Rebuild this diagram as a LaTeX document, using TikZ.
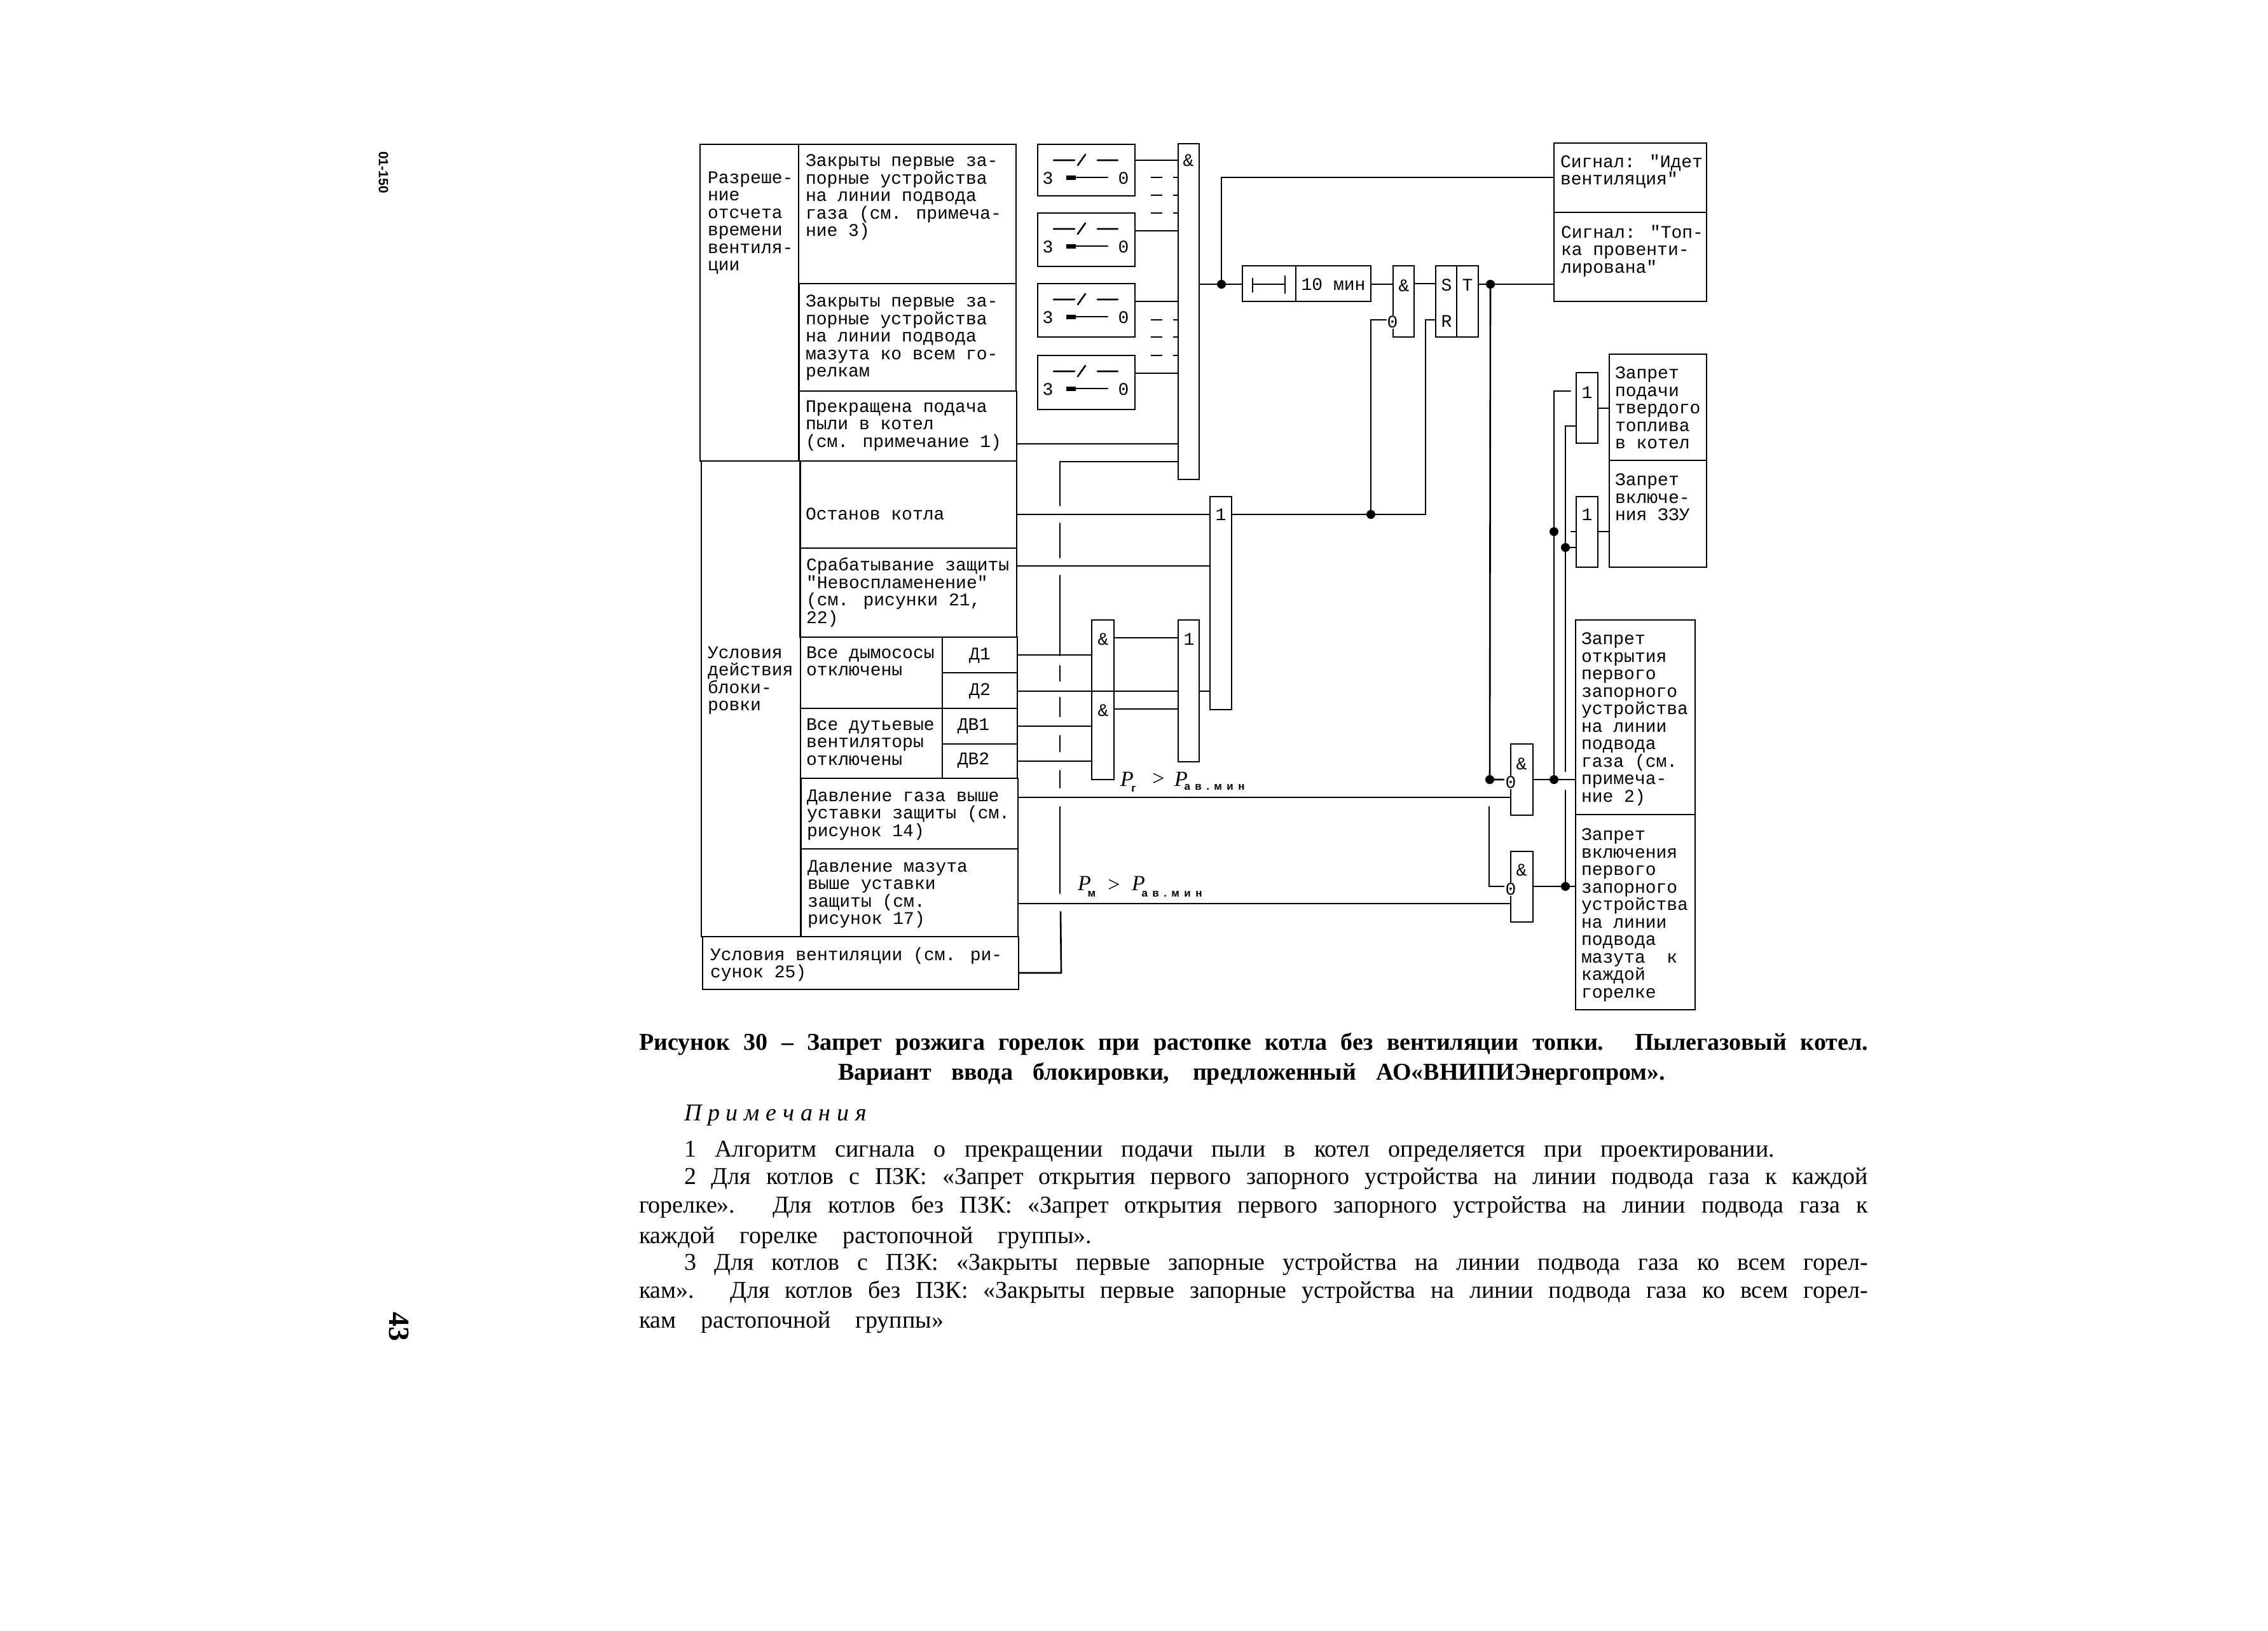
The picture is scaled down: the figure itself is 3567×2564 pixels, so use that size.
\documentclass[tikz,border=0pt]{standalone}
\usepackage{fontspec}
\setmainfont{Liberation Serif}
\newfontfamily\monof{Liberation Mono}
\newfontfamily\sansf{Liberation Sans}
\newcommand\gbox[5]{\pgfmathsetmacro\bw{#4-#2}\pgfmathsetmacro\bh{#5-#3}\node[boxn,minimum width=\bw pt,minimum height=\bh pt,anchor=north west] (#1) at (#2,#3) {};}
\newcommand\swbox[3]{\gbox{#1}{1632}{#2}{1785}{#3}
 \begin{scope}[shift={(0,#2)}]
 \draw[wire] (1657,25)--(1690,25) (1695,33)--(1707,16) (1726,25)--(1758,25);
 \draw[wire] (1692,52)--(1742,52);
 \draw[line width=7pt] (1677,52)--(1692,52);
 \node[lab] (#1-a) at (1648,53) {3};
 \node[lab] (#1-b) at (1767,53) {0};
 \end{scope}}
\newcommand\txt[4]{\node[txtn] (#1) at (#2,#3) {#4};}
\newcommand\jline[4]{\node[anchor=base west,inner sep=0pt,outer sep=0pt] (#1) at (#2,#3) {\makebox[#4pt][s]{\bodyf\strut\ignorespaces};};}
\tikzset{
 boxn/.style={draw=black,line width=2.6pt,inner sep=0pt,outer sep=0pt,rectangle},
 wire/.style={draw=black,line width=2.6pt,line cap=round},
 lab/.style={font=\monof\fontsize{28}{28}\selectfont,inner sep=0pt,outer sep=0pt,text=black},
 labz/.style={font=\monof\fontsize{28}{28}\selectfont,inner sep=1pt,outer sep=0pt,fill=white,text=black},
 txtn/.style={font=\monof\fontsize{28}{27.5}\selectfont,inner sep=0pt,outer sep=0pt,anchor=north west,align=left,text=black},
 dotn/.style={circle,fill=black,inner sep=0pt,minimum size=14pt},
 bodyl/.style={anchor=base west,inner sep=0pt,outer sep=0pt,font=\fontsize{38}{38}\selectfont},
 capl/.style={anchor=base west,inner sep=0pt,outer sep=0pt,font=\bfseries\fontsize{38}{38}\selectfont},
}
\begin{document}
\begin{tikzpicture}[x=1pt,y=-1pt]
\fill[white] (0,0) rectangle (3567,2564);
\useasboundingbox (0,0) rectangle (3567,2564);
% table
\gbox{left1}{1101}{227}{1256}{725}
\gbox{left2}{1103}{725}{1259}{1473}
\gbox{c1}{1256}{227}{1598}{446}
\gbox{c2}{1257}{446}{1598}{615}
\gbox{c3}{1257}{615}{1599}{725}
\gbox{c4}{1258}{725}{1599}{862}
\gbox{c5}{1258}{862}{1599}{1002}
\gbox{c6}{1259}{1002}{1482}{1114}
\gbox{d1}{1482}{1002}{1600}{1058}
\gbox{d2}{1482}{1058}{1600}{1114}
\gbox{c7}{1259}{1114}{1482}{1224}
\gbox{dv1}{1482}{1114}{1600}{1170}
\gbox{dv2}{1482}{1170}{1600}{1224}
\gbox{c8}{1260}{1224}{1601}{1335}
\gbox{c9}{1260}{1335}{1601}{1473}
\gbox{c10}{1105}{1473}{1602}{1556}
% table text
\txt{tl1}{1113}{270}{Разреше-\\ние\\отсчета\\времени\\вентиля-\\ции}
\txt{tl2}{1113}{1017}{Условия\\действия\\блоки-\\ровки}
\txt{t1}{1267}{243}{Закрыты первые за-\\порные устройства\\на линии подвода\\газа (см. примеча-\\ние 3)}
\txt{t2}{1267}{464}{Закрыты первые за-\\порные устройства\\на линии подвода\\мазута ко всем го-\\релкам}
\txt{t3}{1267}{630}{Прекращена подача\\пыли в котел\\(см. примечание 1)}
\txt{t4}{1267}{799}{Останов котла}
\txt{t5}{1268}{877}{Срабатывание защиты\\"Невоспламенение"\\(см. рисунки 21,\\22)}
\txt{t6}{1268}{1017}{Все дымососы\\отключены}
\txt{t7}{1268}{1130}{Все дутьевые\\вентиляторы\\отключены}
\txt{t8}{1269}{1242}{Давление газа выше\\уставки защиты (см.\\рисунок 14)}
\txt{t9}{1270}{1353}{Давление мазута\\выше уставки\\защиты  (см.\\рисунок 17)}
\txt{t10}{1117}{1490}{Условия вентиляции (см. ри-\\сунок 25)}
\node[lab] (td1) at (1541,1031) {Д1};
\node[lab] (td2) at (1541,1087) {Д2};
\node[lab] (tdv1) at (1531,1142) {ДВ1};
\node[lab] (tdv2) at (1531,1196) {ДВ2};
% switches
\swbox{sw1}{227}{308}
\swbox{sw2}{335}{419}
\swbox{sw3}{446}{530}
\swbox{sw4}{559}{644}
% gates
\gbox{gand}{1853}{226}{1886}{754}
\node[lab] (gandt) at (1869,252) {\&};
\gbox{dlyl}{1954}{418}{2038}{474}
\gbox{dlyr}{2038}{418}{2156}{474}
\draw[wire] (1970,438)--(1970,459) (1970,447)--(2021,447) (2021,434)--(2021,461);
\node[lab] (dlyt) at (2097,447) {10 мин};
\gbox{gt}{2191}{418}{2224}{530}
\node[lab] (gtt) at (2208,449) {\&};
\gbox{srl}{2258}{418}{2291}{530}
\gbox{srr}{2291}{418}{2325}{530}
\node[lab] (st) at (2275,448) {S};
\node[lab] (rt) at (2275,505) {R};
\node[lab] (tt) at (2308,448) {T};
\gbox{sig1}{2444}{225}{2684}{334}
\gbox{sig2}{2444}{334}{2684}{474}
\txt{sigt1}{2454}{243}{Сигнал: "Идет\\вентиляция"}
\txt{sigt2}{2455}{354}{Сигнал: "Топ-\\ка провенти-\\лирована"}
\gbox{big1}{1903}{781}{1937}{1116}
\node[lab] (big1t) at (1920,809) {1};
\gbox{ga}{1717}{975}{1752}{1087}
\gbox{gb}{1717}{1087}{1752}{1226}
\node[lab] (gat) at (1735,1005) {\&};
\node[lab] (gbt) at (1735,1117) {\&};
\gbox{or2}{1853}{975}{1886}{1198}
\node[lab] (or2t) at (1870,1005) {1};
\gbox{ra}{2531}{557}{2684}{724}
\gbox{rb}{2531}{724}{2684}{892}
\txt{rat}{2540}{577}{Запрет\\подачи\\твердого\\топлива\\в котел}
\txt{rbt}{2540}{745}{Запрет\\включе-\\ния ЗЗУ}
\gbox{ora}{2479}{586}{2513}{697}
\node[lab] (orat) at (2496,617) {1};
\gbox{orb}{2479}{781}{2513}{892}
\node[lab] (orbt) at (2496,809) {1};
\gbox{rc}{2478}{975}{2666}{1281}
\gbox{rd}{2478}{1281}{2666}{1588}
\txt{rct}{2487}{995}{Запрет\\открытия\\первого\\запорного\\устройства\\на линии\\подвода\\газа (см.\\примеча-\\ние 2)}
\txt{rdt}{2487}{1303}{Запрет\\включения\\первого\\запорного\\устройства\\на линии\\подвода\\мазута\ \ к\\каждой\\горелке}
\gbox{anda}{2376}{1170}{2411}{1282}
\node[lab] (andat) at (2393,1201) {\&};
\gbox{andb}{2376}{1339}{2411}{1450}
\node[lab] (andbt) at (2393,1368) {\&};
% dots
\node[dotn] (p1) at (1921,447) {};
\node[dotn] (p2) at (2156,809) {};
\node[dotn] (p3) at (2344,447) {};
\node[dotn] (p4) at (2343,1226) {};
\node[dotn] (p5) at (2444,1226) {};
\node[dotn] (p6) at (2462,1394) {};
\node[dotn] (p7) at (2444,836) {};
\node[dotn] (p8) at (2462,861) {};
% switch outputs
\draw[wire] (sw1.east |- 0,252) -- (gand.west |- 0,252);
\draw[wire] (sw2.east |- 0,363) -- (gand.west |- 0,363);
\draw[wire] (sw3.east |- 0,474) -- (gand.west |- 0,474);
\draw[wire] (sw4.east |- 0,587) -- (gand.west |- 0,587);
\foreach \yy in {279,307,335} \draw[wire,line cap=butt,dash pattern=on 0pt off 25pt on 18pt off 17pt on 8pt] (sw1.east |- 0,\yy) -- (gand.west |- 0,\yy);
\foreach \yy in {503,530,559} \draw[wire,line cap=butt,dash pattern=on 0pt off 25pt on 18pt off 17pt on 8pt] (sw3.east |- 0,\yy) -- (gand.west |- 0,\yy);
% table to gates
\draw[wire] (c3.east |- 0,698) -- (gand.west |- 0,698);
\draw[wire] (c10.east |- 0,1530) -- (1669,1530) -- (1668,1434);
\draw[wire] (gand.west |- 0,726) -- (1667,726) -- (1667,795);
\foreach \ya/\yb in {823/877,905/1031,1047/1071,1097/1127,1157/1182,1212/1239,1269/1405} \draw[wire] (1667,\ya) -- (1667,\yb);
\draw[wire] (c4.east |- 0,809) -- (big1.west |- 0,809);
\draw[wire] (c5.east |- 0,890) -- (big1.west |- 0,890);
\draw[wire] (d1.east |- 0,1030) -- (ga.west |- 0,1030);
\draw[wire] (d2.east |- 0,1087) -- (or2.west |- 0,1087);
\draw[wire] (dv1.east |- 0,1142) -- (gb.west |- 0,1142);
\draw[wire] (dv2.east |- 0,1197) -- (gb.west |- 0,1197);
\draw[wire] (c8.east |- 0,1254) -- (anda.west |- 0,1254);
\draw[wire] (c9.east |- 0,1421) -- (andb.west |- 0,1421);
\draw[wire] (ga.east |- 0,1003) -- (or2.west |- 0,1003);
\draw[wire] (gb.east |- 0,1115) -- (or2.west |- 0,1115);
\draw[wire] (or2.east |- 0,1087) -- (big1.west |- 0,1087);
% upper chain
\draw[wire] (gand.east |- p1) -- (dlyl.west |- p1);
\draw[wire] (p1.center) -- (1921,279) -- (sig1.west |- 0,279);
\draw[wire] (dlyr.east |- 0,447) -- (gt.west |- 0,447);
\draw[wire] (gt.east |- 0,446) -- (srl.west |- 0,446);
\draw[wire] (srr.east |- p3) -- (sig2.west |- p3);
\draw[wire] (big1.east |- p2) -- (2242,809) -- (2242,503) -- (srl.west |- 0,503);
\draw[wire] (p2.center) -- (2156,503) -- (2180,503);
\node[labz] (gt0) at (2190,506) {0};
% right side
\draw[wire] (p3.center) -- (p4.center) -- (2365,1226);
\node[labz] (a0) at (2376,1230) {0};
\draw[wire] (2342,1269) -- (2342,1394) -- (2365,1394);
\node[labz] (b0) at (2376,1398) {0};
\draw[wire] (anda.east |- p5) -- (rc.west |- p5);
\draw[wire] (andb.east |- p6) -- (rd.west |- p6);
\draw[wire] (p5.center) -- (p7.center) -- (2444,615) -- (2470,615);
\draw[wire] (2471,836) -- (orb.west |- p7);
\draw[wire] (ora.west |- 0,670) -- (2462,670) -- (p8.center) -- (2462,1213);
\draw[wire] (2462,1243) -- (p6.center);
\draw[wire] (p8.center) -- (orb.west |- p8);
\draw[wire] (ora.east |- 0,642) -- (ra.west |- 0,642);
\draw[wire] (orb.east |- 0,836) -- (rb.west |- 0,836);
% pressure labels
\node[anchor=base west,inner sep=0pt,font=\itshape\fontsize{34}{34}\selectfont] (pg) at (1762,1236) {P};
\node[anchor=center,inner sep=0pt,font=\sansf\bfseries\fontsize{17}{17}\selectfont] (pgs) at (1783,1241) {г};
\node[anchor=center,inner sep=0pt,font=\fontsize{34}{34}\selectfont] (pgg) at (1822,1226) {>};
\node[anchor=base west,inner sep=0pt,font=\itshape\fontsize{34}{34}\selectfont] (pg2) at (1847,1236) {P};
\node[anchor=center,inner sep=0pt,font=\sansf\bfseries\fontsize{17}{17}\selectfont] (pgs2) at (1910,1238) {\makebox[95pt][s]{а\hfil в\hfil .\hfil м\hfil и\hfil н}};
\node[anchor=base west,inner sep=0pt,font=\itshape\fontsize{34}{34}\selectfont] (pm) at (1695,1400) {P};
\node[anchor=center,inner sep=0pt,font=\sansf\bfseries\fontsize{17}{17}\selectfont] (pms) at (1717,1406) {м};
\node[anchor=center,inner sep=0pt,font=\fontsize{34}{34}\selectfont] (pmg) at (1752,1393) {>};
\node[anchor=base west,inner sep=0pt,font=\itshape\fontsize{34}{34}\selectfont] (pm2) at (1780,1400) {P};
\node[anchor=center,inner sep=0pt,font=\sansf\bfseries\fontsize{17}{17}\selectfont] (pms2) at (1843,1406) {\makebox[95pt][s]{а\hfil в\hfil .\hfil м\hfil и\hfil н}};
% caption and notes
\node[capl] (cap1) at (1005,1651) {\makebox[1933pt][s]{Рисунок 30 – Запрет розжига горелок при растопке котла без вентиляции топки. Пылегазовый котел.}};
\node[capl] (cap2) at (1318,1698) {\makebox[1301pt][s]{Вариант ввода блокировки, предложенный АО«ВНИПИЭнергопром».}};
\node[bodyl,font=\itshape\fontsize{38}{38}\selectfont] (nh) at (1076,1762) {\makebox[287pt][s]{П\hfil р\hfil и\hfil м\hfil е\hfil ч\hfil а\hfil н\hfil и\hfil я}};
\node[bodyl] (n1) at (1076,1819) {\makebox[1715pt][s]{1 Алгоритм сигнала о прекращении подачи пыли в котел определяется при проектировании.}};
\node[bodyl] (n2) at (1076,1862) {\makebox[1862pt][s]{2 Для котлов с ПЗК: «Запрет открытия первого запорного устройства на линии подвода газа к каждой}};
\node[bodyl] (n3) at (1005,1907) {\makebox[1933pt][s]{горелке». Для котлов без ПЗК: «Запрет открытия первого запорного устройства на линии подвода газа к}};
\node[bodyl] (n4) at (1005,1955) {\makebox[712pt][s]{каждой горелке растопочной группы».}};
\node[bodyl] (n5) at (1076,1997) {\makebox[1862pt][s]{3 Для котлов с ПЗК: «Закрыты первые запорные устройства на линии подвода газа ко всем горел-}};
\node[bodyl] (n6) at (1005,2041) {\makebox[1933pt][s]{кам». Для котлов без ПЗК: «Закрыты первые запорные устройства на линии подвода газа ко всем горел-}};
\node[bodyl] (n7) at (1005,2088) {\makebox[479pt][s]{кам растопочной группы»}};
% margin
\node[rotate=-90,inner sep=0pt,font=\sansf\bfseries\fontsize{21}{21}\selectfont] (m1) at (603,271) {01-150};
\node[rotate=-90,inner sep=0pt,font=\bfseries\fontsize{46}{46}\selectfont] (m2) at (627,2086) {43};
\end{tikzpicture}
\end{document}
